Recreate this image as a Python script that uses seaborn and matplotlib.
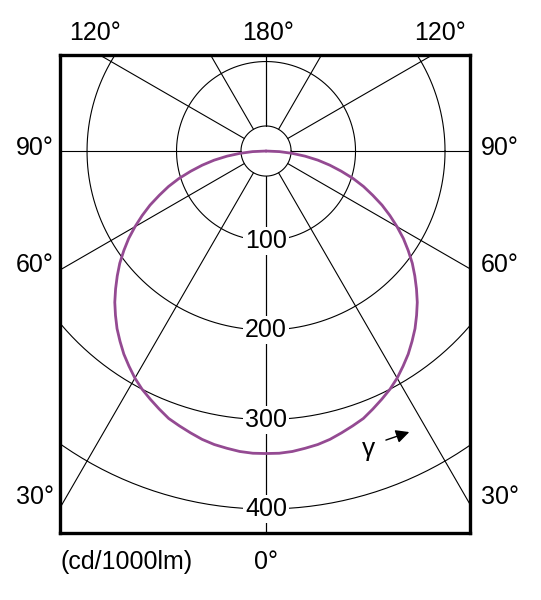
import numpy as np
import pandas as pd
import seaborn as sns
from matplotlib import pyplot as plt

# Luminous intensity readings (cd/1000lm), gamma measured from nadir, symmetric curve
gamma_deg = [0, 2.5, 5, 7.5, 10, 12.5, 15, 17.5, 20, 22.5, 25, 27.5, 30, 32.5, 35, 37.5,
             40, 42.5, 45, 47.5, 50, 52.5, 55, 57.5, 60, 62.5, 65, 67.5, 70, 72.5, 75,
             77.5, 80, 82.5, 85, 87.5, 90]
intensity = [338, 338, 337, 335, 333, 330, 326, 322, 318, 312, 306, 300, 293, 285, 277, 268,
             259, 249, 239, 228, 217, 206, 194, 182, 169, 156, 143, 129, 116, 102, 87,
             73, 59, 44, 29, 15, 0]

ring_values = [100, 200, 300, 400]
inner_ring = 28
spoke_angles = [0, 30, 60, 90, 120, 150, 180]

sns.set_style("white")
plt.rcParams['font.family'] = ['Liberation Sans', 'DejaVu Sans']
plt.rcParams['text.color'] = 'black'

fig = plt.figure(figsize=(5.41, 6), dpi=100)
ax = fig.add_axes([60/541, 67/600, 410/541, 478/600])

# mirror the half-curve to both sides
g = np.radians(np.array(gamma_deg))
r = np.array(intensity)
ang = np.concatenate([-g[::-1], g[1:]])
rr = np.concatenate([r[::-1], r[1:]])
curve = pd.DataFrame({'x': rr*np.sin(ang), 'y': -rr*np.cos(ang)})

# rings
t = np.linspace(0, 2*np.pi, 400)
for v in ring_values + [inner_ring]:
    ax.plot(v*np.cos(t), v*np.sin(t), color='black', lw=0.8, zorder=1)

# spokes
for a in spoke_angles:
    for sgn in [-1, 1]:
        ar = np.radians(sgn*a)
        ax.plot([inner_ring*np.sin(ar), 700*np.sin(ar)],
                [-inner_ring*np.cos(ar), -700*np.cos(ar)],
                color='black', lw=0.8, zorder=1)

sns.lineplot(x='x', y='y', data=curve, sort=False, estimator=None,
             color='#944a92', lw=2.0, ax=ax, zorder=3)

# ring labels on the vertical axis
for v in ring_values:
    ax.text(0, -v, str(v), ha='center', va='center', fontsize=18, zorder=4,
            bbox=dict(facecolor='white', edgecolor='none', pad=1.5))

# gamma arrow
ax.text(114, -333, 'γ', ha='center', va='center', fontsize=19)
ax.annotate('', xy=(163, -313), xytext=(131, -324),
            arrowprops=dict(arrowstyle='-|>', color='black', lw=1.0, mutation_scale=20))

ax.set_xlim(-230.2, 227.9)
ax.set_ylim(-426.8, 107.3)
ax.set_aspect('equal')
ax.set_xticks([])
ax.set_yticks([])
ax.set_xlabel('')
ax.set_ylabel('')
for sp in ax.spines.values():
    sp.set_visible(True)
    sp.set_color('black')
    sp.set_linewidth(2.4)

# angle labels around the frame
fs = 18
def lab(px, py, s, ha='center'):
    fig.text(px/541, 1 - py/600, s, ha=ha, va='center', fontsize=fs)

lab(95, 33, '120°')
lab(268, 33, '180°')
lab(440, 33, '120°')
lab(35, 148, '90°')
lab(500, 148, '90°')
lab(35, 265, '60°')
lab(500, 265, '60°')
lab(35, 497, '30°')
lab(500, 497, '30°')
lab(266, 562, '0°')
lab(60, 562, '(cd/1000lm)', ha='left')

plt.savefig('out.png', dpi=100)
